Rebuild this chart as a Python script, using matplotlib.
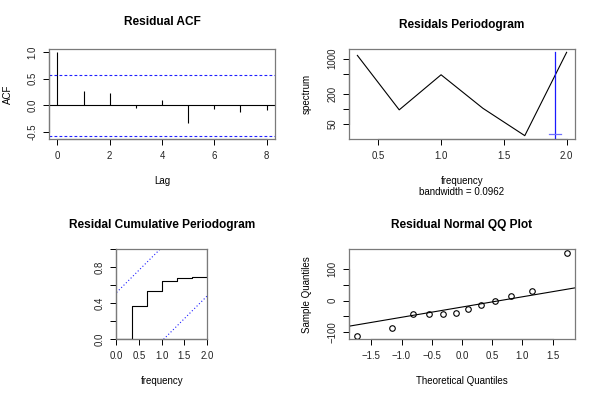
import numpy as np
import matplotlib
matplotlib.use("Agg")
import matplotlib.pyplot as plt
from matplotlib.ticker import NullLocator

plt.rcParams["font.family"] = ["Liberation Sans", "DejaVu Sans"]

# residual ACF
acf_lags = [0, 1, 2, 3, 4, 5, 6, 7, 8]
acf_vals = [1.0, 0.27, 0.235, -0.04, 0.11, -0.34, -0.06, -0.13, -0.08]
acf_conf = 0.57

# periodogram
spec_freq = [1 / 3, 2 / 3, 1.0, 4 / 3, 5 / 3, 2.0]
spec_vals = [1164, 96, 479, 103, 29.4, 1340]
bandwidth = 0.0962
ci_y = 31.4

# cumulative periodogram
cp_freq = [0.0, 1 / 3, 2 / 3, 1.0, 4 / 3, 5 / 3, 2.0]
cp_vals = [0.0, 0.369, 0.541, 0.649, 0.683, 0.687, 1.0]
cp_crit = 0.52

# normal QQ
qq_theo = [-1.73, -1.15, -0.81, -0.55, -0.32, -0.10, 0.10, 0.32, 0.55, 0.81, 1.15, 1.73]
qq_sample = [-112, -86, -42, -42, -41, -38, -25, -15, -2, 14, 31, 153]

W, H = 600, 400
LABEL_SIZE = 7
TITLE_SIZE = 8.6
fig = plt.figure(figsize=(6, 4), dpi=100)


def rect(l, t, r, b):
    return [l / W, 1 - b / H, (r - l) / W, (b - t) / H]


def put(x, y, s, **kw):
    kw.setdefault("ha", "center")
    kw.setdefault("va", "center")
    kw.setdefault("fontsize", LABEL_SIZE)
    fig.text(x / W, 1 - y / H, s, **kw)


def title(x, y, s):
    put(x, y, s, fontsize=TITLE_SIZE, fontweight="bold", va="baseline")


def style(ax, xticks, xlabels, yticks, ylabels):
    for s in ax.spines.values():
        s.set_color("#7a7a7a")
        s.set_linewidth(0.9)
    ax.set_xticks(xticks)
    ax.set_xticklabels(xlabels)
    ax.set_yticks(yticks)
    ax.set_yticklabels(ylabels, rotation=90, va="center")
    ax.tick_params(length=4.3, width=0.7, labelsize=6.9, pad=4, labelcolor="#222222")
    # R draws the axis line only between first and last tick
    ax.plot([xticks[0], xticks[-1]], [0, 0], transform=ax.get_xaxis_transform(),
            color="k", lw=0.8, clip_on=False)
    ax.plot([0, 0], [yticks[0], yticks[-1]], transform=ax.get_yaxis_transform(),
            color="k", lw=0.8, clip_on=False)


def pad_range(lo, hi, f=0.04):
    d = (hi - lo) * f
    return lo - d, hi + d


# --- Residual ACF ---
ax1 = fig.add_axes(rect(49, 49, 275, 139))
ax1.vlines(acf_lags, 0, acf_vals, color="k", lw=0.8)
ax1.axhline(0, color="k", lw=0.8)
for c in (acf_conf, -acf_conf):
    ax1.axhline(c, color="#2020ff", lw=0.8, ls=(0, (2.5, 2)))
ax1.set_xlim(*pad_range(min(acf_lags), max(acf_lags)))
ax1.set_ylim(*pad_range(-acf_conf, max(acf_vals)))
style(ax1, [0, 2, 4, 6, 8], ["0", "2", "4", "6", "8"],
      [-0.5, 0.0, 0.5, 1.0], ["-0.5", "0.0", "0.5", "1.0"])
title(162, 25, "Residual ACF")
put(162, 181, "Lag")
put(7.5, 94, "ACF", rotation=90)

# --- Periodogram ---
ax2 = fig.add_axes(rect(349, 49, 575, 139))
ax2.plot(spec_freq, spec_vals, color="k", lw=0.8)
ax2.set_yscale("log")
smin, smax = min(spec_vals), max(spec_vals)
ratio = (smax / smin) ** 0.04
ax2.set_ylim(smin / ratio, smax * ratio)
ax2.set_xlim(*pad_range(min(spec_freq), max(spec_freq)))
conf_x = max(spec_freq) - bandwidth
ax2.plot([conf_x, conf_x], [ci_y * 0.2, smax], color="#1a1aff", lw=0.9)
ax2.plot([conf_x - bandwidth / 2, conf_x + bandwidth / 2], [ci_y, ci_y], color="#7070ff", lw=0.9)
style(ax2, [0.5, 1.0, 1.5, 2.0], ["0.5", "1.0", "1.5", "2.0"],
      [50, 100, 200, 500, 1000], ["50", "", "200", "", "1000"])
ax2.yaxis.set_minor_locator(NullLocator())
title(462, 28.3, "Residals Periodogram")
put(462, 181, "frequency")
put(462, 192.5, "bandwidth = 0.0962")
put(307, 94, "spectrum", rotation=90)

# --- Cumulative periodogram ---
ax3 = fig.add_axes(rect(116.5, 249.3, 207, 339.3))
ax3.step(cp_freq, cp_vals, where="post", color="k", lw=0.8)
xm = max(cp_freq)
ax3.plot([0, xm * (1 - cp_crit)], [cp_crit, 1], color="#2020ff", lw=0.8, ls=(0, (1, 2)))
ax3.plot([xm * cp_crit, xm], [0, 1 - cp_crit], color="#2020ff", lw=0.8, ls=(0, (1, 2)))
ax3.set_xlim(0, xm)
ax3.set_ylim(0, 1)
style(ax3, [0.0, 0.5, 1.0, 1.5, 2.0], ["0.0", "0.5", "1.0", "1.5", "2.0"],
      [0.0, 0.2, 0.4, 0.6, 0.8, 1.0], ["0.0", "", "0.4", "", "0.8", ""])
title(161.7, 228.3, "Residal Cumulative Periodogram")
put(162, 381, "frequency")

# --- Normal QQ ---
ax4 = fig.add_axes(rect(349, 249.3, 575, 339.3))
ax4.plot(qq_theo, qq_sample, ls="none", marker="o", mfc="none", mec="k", ms=4, mew=0.8)
q1, q3 = np.percentile(qq_sample, [25, 75])
slope = (q3 - q1) / 1.349
icpt = (q1 + q3) / 2
xl = pad_range(min(qq_theo), max(qq_theo))
ax4.set_xlim(*xl)
ax4.set_ylim(*pad_range(min(qq_sample), max(qq_sample)))
ax4.plot(xl, [icpt + slope * xl[0], icpt + slope * xl[1]], color="k", lw=0.8)
style(ax4, [-1.5, -1.0, -0.5, 0.0, 0.5, 1.0, 1.5],
      ["\u22121.5", "\u22121.0", "\u22120.5", "0.0", "0.5", "1.0", "1.5"],
      [-100, -50, 0, 50, 100], ["\u2212100", "", "0", "", "100"])
title(462, 228.3, "Residual Normal QQ Plot")
put(462, 381, "Theoretical Quantiles")
put(307.3, 294.3, "Sample Quantiles", rotation=90)

fig.savefig("out.png", dpi=100)
